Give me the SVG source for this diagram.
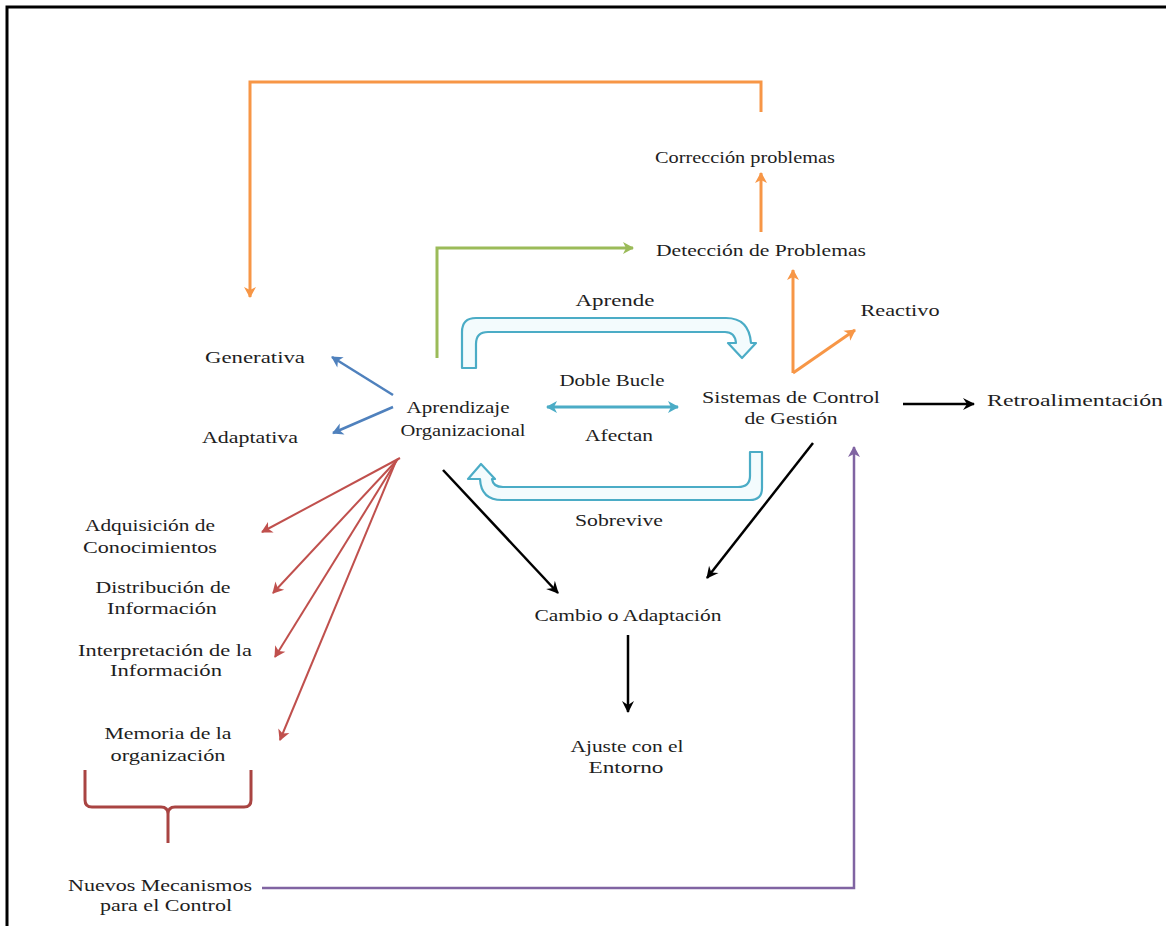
<svg xmlns="http://www.w3.org/2000/svg" width="1166" height="926" viewBox="0 0 1166 926">
<style>
text{font-family:"Liberation Serif","Times New Roman",serif;font-size:17px;fill:#1e1e1e;text-anchor:middle}
.ln{fill:none;stroke-linecap:butt;stroke-linejoin:miter}
.or{stroke:#f79646;stroke-width:3}
.gr{stroke:#9bbb59;stroke-width:3}
.bl{stroke:#4f81bd;stroke-width:2.5}
.rd{stroke:#c0504d;stroke-width:2}
.bk{stroke:#000;stroke-width:2.5}
.pu{stroke:#8064a2;stroke-width:2.5}
.cy{stroke:#4bacc6;stroke-width:3}
.blk{fill:#f3fbfd;stroke:#4bacc6;stroke-width:2.2;stroke-linejoin:round}
</style>
<defs>
<marker id="mOr" markerUnits="userSpaceOnUse" markerWidth="16" markerHeight="16" refX="12" refY="8" orient="auto"><path d="M2,2 L13,8 L2,14 L5,8 Z" fill="#f79646"/></marker>
<marker id="mGr" markerUnits="userSpaceOnUse" markerWidth="16" markerHeight="16" refX="12" refY="8" orient="auto"><path d="M2,2 L13,8 L2,14 L5,8 Z" fill="#9bbb59"/></marker>
<marker id="mBl" markerUnits="userSpaceOnUse" markerWidth="16" markerHeight="16" refX="12" refY="8" orient="auto"><path d="M2,2 L13,8 L2,14 L5,8 Z" fill="#4f81bd"/></marker>
<marker id="mRd" markerUnits="userSpaceOnUse" markerWidth="16" markerHeight="16" refX="12" refY="8" orient="auto"><path d="M2,2 L13,8 L2,14 L5,8 Z" fill="#c0504d"/></marker>
<marker id="mBk" markerUnits="userSpaceOnUse" markerWidth="16" markerHeight="16" refX="12" refY="8" orient="auto"><path d="M1,2 L13,8 L1,14 L5,8 Z" fill="#000"/></marker>
<marker id="mPu" markerUnits="userSpaceOnUse" markerWidth="16" markerHeight="16" refX="12" refY="8" orient="auto"><path d="M2,2 L13,8 L2,14 L5,8 Z" fill="#8064a2"/></marker>
<marker id="mCyE" markerUnits="userSpaceOnUse" markerWidth="16" markerHeight="16" refX="12" refY="8" orient="auto"><path d="M2,2 L13,8 L2,14 L5,8 Z" fill="#4bacc6"/></marker>
<marker id="mCyS" markerUnits="userSpaceOnUse" markerWidth="16" markerHeight="16" refX="4" refY="8" orient="auto"><path d="M14,2 L3,8 L14,14 L11,8 Z" fill="#4bacc6"/></marker>
</defs>
<rect width="1166" height="926" fill="#fff"/>
<path d="M7,926 L7,7 L1166,7" fill="none" stroke="#000" stroke-width="3"/>

<g id="connectors">
<path class="ln or" d="M761,112 L761,82 L250,82 L250,297" marker-end="url(#mOr)"/>
<path class="ln or" d="M761,232 L761,173" marker-end="url(#mOr)"/>
<path class="ln or" d="M793,373 L793,270" marker-end="url(#mOr)"/>
<path class="ln or" d="M793,373 L855,330" marker-end="url(#mOr)"/>
<path class="ln gr" d="M437,358 L437,248 L633,248" marker-end="url(#mGr)"/>
<path class="blk" d="M462,368 L462,332 Q462,318 476,318 L726,318 Q749,318 751,343 L756,343 L742,358 L728,343 L736,343 Q735,332 725,332 L488,332 Q476,332 476,344 L476,368 Z"/>
<path class="blk" d="M762,452 L762,488 Q762,500 750,500 L502,500 Q481,500 480,479 L468,479 L481,464 L495,479 L492,479 Q493,487 503,487 L738,487 Q750,487 750,476 L750,452 Z"/>
<path class="ln cy" d="M547,407 L678,407" marker-start="url(#mCyS)" marker-end="url(#mCyE)"/>
<path class="ln bl" d="M393,395 L332,357" marker-end="url(#mBl)"/>
<path class="ln bl" d="M393,407 L333,433" marker-end="url(#mBl)"/>
<path class="ln rd" d="M400,458 L262,532" marker-end="url(#mRd)"/>
<path class="ln rd" d="M398,459 L273,593" marker-end="url(#mRd)"/>
<path class="ln rd" d="M397,460 L275,657" marker-end="url(#mRd)"/>
<path class="ln rd" d="M396,461 L280,740" marker-end="url(#mRd)"/>
<path class="ln bk" d="M443,470 L558,593" marker-end="url(#mBk)"/>
<path class="ln bk" d="M813,443 L707,578" marker-end="url(#mBk)"/>
<path class="ln bk" d="M628,635 L628,712" marker-end="url(#mBk)"/>
<path class="ln bk" d="M903,404 L974,404" marker-end="url(#mBk)"/>
<path class="ln pu" d="M262,888 L854,888 L854,447" marker-end="url(#mPu)"/>
<path d="M85,770 L85,800 Q85,807 92,807 L161,807 Q168,807 168,814 L168,843 M168,814 Q168,807 175,807 L244,807 Q251,807 251,800 L251,770" fill="none" stroke="#a94442" stroke-width="3"/>
</g>

<g id="correccion"><text x="745" y="163" textLength="180" lengthAdjust="spacingAndGlyphs">Corrección problemas</text></g>
<g id="deteccion"><text x="761" y="256" textLength="210" lengthAdjust="spacingAndGlyphs">Detección de Problemas</text></g>
<g id="aprende"><text x="615" y="306" textLength="79" lengthAdjust="spacingAndGlyphs">Aprende</text></g>
<g id="reactivo"><text x="900" y="316" textLength="79" lengthAdjust="spacingAndGlyphs">Reactivo</text></g>
<g id="generativa"><text x="255" y="363" textLength="100" lengthAdjust="spacingAndGlyphs">Generativa</text></g>
<g id="adaptativa"><text x="250" y="443" textLength="96" lengthAdjust="spacingAndGlyphs">Adaptativa</text></g>
<g id="aprendizaje"><text x="458" y="413" textLength="103" lengthAdjust="spacingAndGlyphs">Aprendizaje</text><text x="463" y="436" textLength="125" lengthAdjust="spacingAndGlyphs">Organizacional</text></g>
<g id="doble-bucle"><text x="612" y="386" textLength="105" lengthAdjust="spacingAndGlyphs">Doble Bucle</text></g>
<g id="afectan"><text x="619" y="441" textLength="68" lengthAdjust="spacingAndGlyphs">Afectan</text></g>
<g id="sistemas"><text x="791" y="403" textLength="178" lengthAdjust="spacingAndGlyphs">Sistemas de Control</text><text x="791" y="424" textLength="93" lengthAdjust="spacingAndGlyphs">de Gestión</text></g>
<g id="retroalimentacion"><text x="987" y="406" style="text-anchor:start" textLength="176" lengthAdjust="spacingAndGlyphs">Retroalimentación</text></g>
<g id="sobrevive"><text x="619" y="526" textLength="88" lengthAdjust="spacingAndGlyphs">Sobrevive</text></g>
<g id="cambio"><text x="628" y="621" textLength="187" lengthAdjust="spacingAndGlyphs">Cambio o Adaptación</text></g>
<g id="ajuste"><text x="627" y="752" textLength="113" lengthAdjust="spacingAndGlyphs">Ajuste con el</text><text x="626" y="773" textLength="75" lengthAdjust="spacingAndGlyphs">Entorno</text></g>
<g id="adquisicion"><text x="150" y="531" textLength="130" lengthAdjust="spacingAndGlyphs">Adquisición de</text><text x="150" y="553" textLength="134" lengthAdjust="spacingAndGlyphs">Conocimientos</text></g>
<g id="distribucion"><text x="163" y="593" textLength="135" lengthAdjust="spacingAndGlyphs">Distribución de</text><text x="162" y="614" textLength="110" lengthAdjust="spacingAndGlyphs">Información</text></g>
<g id="interpretacion"><text x="165" y="656" textLength="174" lengthAdjust="spacingAndGlyphs">Interpretación de la</text><text x="166" y="676" textLength="112" lengthAdjust="spacingAndGlyphs">Información</text></g>
<g id="memoria"><text x="168" y="739" textLength="127" lengthAdjust="spacingAndGlyphs">Memoria de la</text><text x="168" y="761" textLength="115" lengthAdjust="spacingAndGlyphs">organización</text></g>
<g id="nuevos"><text x="160" y="891" textLength="184" lengthAdjust="spacingAndGlyphs">Nuevos Mecanismos</text><text x="166" y="911" textLength="132" lengthAdjust="spacingAndGlyphs">para el Control</text></g>
</svg>
